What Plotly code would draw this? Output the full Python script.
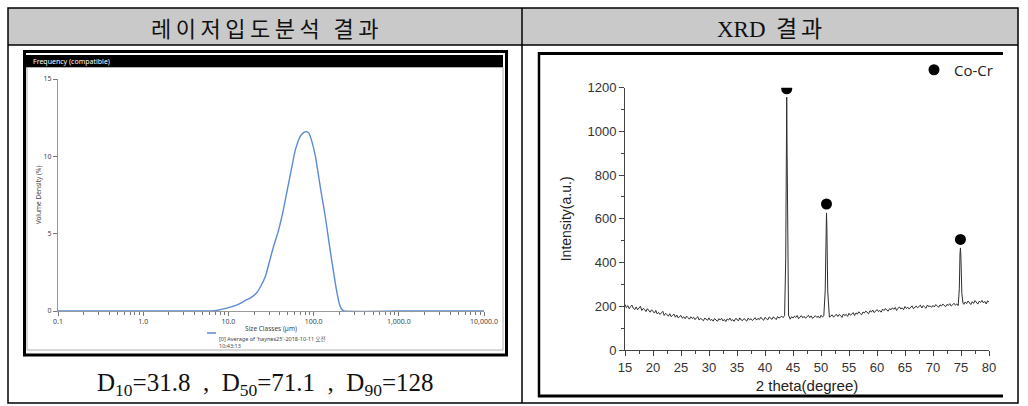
import plotly.graph_objects as go

# ---------------- data ----------------
# Laser particle size distribution (left panel)
size_um = [0.1, 1.0, 5.0, 6.3, 7.5, 9.0, 10.0, 12.0, 13.8, 16.0, 18.2, 21.6, 24.0, 27.4,
           30.0, 34.0, 38.7, 44.0, 49.0, 55.0, 61.0, 70.0, 77.0, 82.0, 88.0, 95.0,
           105.0, 120.0, 139.0, 152.0, 165.0, 185.0, 202.0, 215.0, 227.0, 1000.0, 10000.0]
volume_density = [0, 0, 0, 0, 0.05, 0.15, 0.22, 0.35, 0.5, 0.7, 0.85, 1.2, 1.6, 2.3,
                  3.1, 4.2, 5.2, 6.5, 7.8, 9.2, 10.4, 11.3, 11.55, 11.6, 11.5, 11.0,
                  10.0, 8.0, 5.9, 4.4, 3.1, 1.4, 0.4, 0.1, 0, 0, 0]
size_ticks = [0.1, 1.0, 10.0, 100.0, 1000.0, 10000.0]
size_tick_text = ["0.1", "1.0", "10.0", "100.0", "1,000.0", "10,000.0"]
size_minor = [m * d for d in [0.1, 1.0, 10.0, 100.0, 1000.0] for m in range(2, 10)]
density_ticks = [0, 5, 10, 15]
d_values = {"10": "31.8", "50": "71.1", "90": "128"}

# XRD pattern (right panel)
two_theta = [
    15.0, 15.25, 15.5, 15.75, 16.0, 16.25, 16.5, 16.75, 17.0, 17.25, 17.5, 17.75,
    18.0, 18.25, 18.5, 18.75, 19.0, 19.25, 19.5, 19.75, 20.0, 20.25, 20.5, 20.75,
    21.0, 21.25, 21.5, 21.75, 22.0, 22.25, 22.5, 22.75, 23.0, 23.25, 23.5, 23.75,
    24.0, 24.25, 24.5, 24.75, 25.0, 25.25, 25.5, 25.75, 26.0, 26.25, 26.5, 26.75,
    27.0, 27.25, 27.5, 27.75, 28.0, 28.25, 28.5, 28.75, 29.0, 29.25, 29.5, 29.75,
    30.0, 30.25, 30.5, 30.75, 31.0, 31.25, 31.5, 31.75, 32.0, 32.25, 32.5, 32.75,
    33.0, 33.25, 33.5, 33.75, 34.0, 34.25, 34.5, 34.75, 35.0, 35.25, 35.5, 35.75,
    36.0, 36.25, 36.5, 36.75, 37.0, 37.25, 37.5, 37.75, 38.0, 38.25, 38.5, 38.75,
    39.0, 39.25, 39.5, 39.75, 40.0, 40.25, 40.5, 40.75, 41.0, 41.25, 41.5, 41.75,
    42.0, 42.25, 42.5, 42.75,
    43.0, 43.25, 43.5, 43.7, 43.8, 43.88, 43.95, 44.05, 44.2, 44.5, 44.75,
    45.0, 45.25, 45.5, 45.75, 46.0, 46.25, 46.5, 46.75, 47.0, 47.25, 47.5, 47.75,
    48.0, 48.25, 48.5, 48.75, 49.0, 49.25, 49.5, 49.75,
    50.0, 50.25, 50.5, 50.75, 50.9, 50.98, 51.05, 51.2, 51.5, 51.75,
    52.0, 52.25, 52.5, 52.75, 53.0, 53.25, 53.5, 53.75, 54.0, 54.25, 54.5, 54.75,
    55.0, 55.25, 55.5, 55.75, 56.0, 56.25, 56.5, 56.75, 57.0, 57.25, 57.5, 57.75,
    58.0, 58.25, 58.5, 58.75, 59.0, 59.25, 59.5, 59.75, 60.0, 60.25, 60.5, 60.75,
    61.0, 61.25, 61.5, 61.75, 62.0, 62.25, 62.5, 62.75, 63.0, 63.25, 63.5, 63.75,
    64.0, 64.25, 64.5, 64.75, 65.0, 65.25, 65.5, 65.75, 66.0, 66.25, 66.5, 66.75,
    67.0, 67.25, 67.5, 67.75, 68.0, 68.25, 68.5, 68.75, 69.0, 69.25, 69.5, 69.75,
    70.0, 70.25, 70.5, 70.75, 71.0, 71.25, 71.5, 71.75, 72.0, 72.25, 72.5, 72.75,
    73.0, 73.25, 73.5, 73.75,
    74.0, 74.25, 74.5, 74.7, 74.82, 74.9, 74.98, 75.15, 75.35, 75.5, 75.75,
    76.0, 76.25, 76.5, 76.75, 77.0, 77.25, 77.5, 77.75, 78.0, 78.25, 78.5, 78.75,
    79.0, 79.25, 79.5, 79.75, 80.0]
intensity = [
    208, 194, 203, 189, 199, 205, 190, 185, 197, 184, 192, 200,
    181, 190, 186, 176, 189, 178, 173, 184, 176, 169, 181, 165,
    172, 163, 170, 177, 158, 168, 161, 155, 166, 152, 159, 164,
    150, 160, 147, 155, 158, 146, 152, 143, 155, 148, 141, 152,
    144, 150, 139, 147, 152, 137, 145, 140, 134, 146, 141, 136,
    147, 135, 140, 132, 144, 137, 131, 143, 138, 145, 133, 140,
    130, 142, 137, 146, 134, 139, 131, 144, 141, 133, 147, 137,
    135, 144, 139, 132, 146, 138, 143, 135, 141, 148, 137, 145,
    139, 150, 142, 136, 149, 143, 138, 151, 145, 140, 152, 147,
    139, 153, 146, 150,
    155, 148, 158, 420, 1000, 1157, 900, 380, 160, 141, 152,
    146, 155, 149, 158, 143, 152, 157, 147, 154, 145, 150, 159,
    148, 156, 144, 153, 157, 149, 155, 146,
    159, 151, 156, 270, 560, 627, 560, 270, 150, 158,
    161, 150, 156, 164, 153, 162, 158, 149, 165, 157, 163, 154,
    168, 159, 164, 171, 158, 170, 164, 175, 167, 161, 174, 169,
    178, 170, 166, 180, 174, 183, 171, 178, 185, 176, 181, 173,
    187, 180, 190, 182, 178, 189, 184, 193, 186, 195, 181, 191,
    197, 188, 193, 185, 199, 190, 196, 187, 194, 202, 189, 197,
    201, 193, 199, 205, 192, 203, 197, 191, 206, 198, 202, 195,
    204, 197, 208, 200, 195, 207, 201, 210, 203, 198, 209, 204,
    212, 201, 207, 214,
    205, 211, 203, 280, 440, 467, 430, 260, 215, 209, 220,
    212, 224, 216, 208, 221, 213, 226, 217, 210, 223, 218, 227,
    215, 222, 211, 225, 219]
peak_theta = [43.88, 50.98, 74.9]
peak_marker_level = [1195, 668, 506]

# ---------------- figure ----------------
W, H = 1028, 406


def px(x):
    return x / W


def py(y):
    return 1 - y / H


fig = go.Figure()
fig.add_trace(go.Scatter(x=size_um, y=volume_density, mode="lines",
                         line=dict(color="#5b8ad6", width=1.4, shape="spline", smoothing=0.5),
                         xaxis="x", yaxis="y", showlegend=False, hoverinfo="skip"))
fig.add_trace(go.Scatter(x=two_theta, y=intensity, mode="lines",
                         line=dict(color="#2e2e2e", width=1),
                         xaxis="x2", yaxis="y2", showlegend=False, hoverinfo="skip"))
fig.add_trace(go.Scatter(x=peak_theta, y=peak_marker_level, mode="markers", name="Co-Cr",
                         marker=dict(color="black", size=11),
                         xaxis="x2", yaxis="y2", showlegend=True, hoverinfo="skip"))

small = dict(family="Noto Sans", size=7, color="#444")
xrd_font = dict(family="Liberation Sans", size=13, color="#333")

shapes = [
    # table header fill
    dict(type="rect", xref="paper", yref="paper", x0=px(8), x1=px(1018), y0=py(45), y1=py(8),
         fillcolor="#c9c9c9", line=dict(width=0), layer="below"),
    # table borders
    dict(type="rect", xref="paper", yref="paper", x0=px(8), x1=px(1018), y0=py(403), y1=py(8),
         line=dict(color="black", width=1.5)),
    dict(type="line", xref="paper", yref="paper", x0=px(8), x1=px(1018), y0=py(45), y1=py(45),
         line=dict(color="black", width=1.5)),
    dict(type="line", xref="paper", yref="paper", x0=px(522), x1=px(522), y0=py(8), y1=py(403),
         line=dict(color="black", width=1.5)),
    # left screenshot frame
    dict(type="rect", xref="paper", yref="paper", x0=px(24.5), x1=px(506.5), y0=py(355), y1=py(51.5),
         line=dict(color="black", width=3)),
    dict(type="rect", xref="paper", yref="paper", x0=px(26), x1=px(503), y0=py(67.5), y1=py(55),
         fillcolor="black", line=dict(width=0)),
    dict(type="rect", xref="paper", yref="paper", x0=px(27), x1=px(503), y0=py(350), y1=py(67.5),
         line=dict(color="#b0b0b0", width=1)),
    # right image frame
    dict(type="line", xref="paper", yref="paper", x0=px(538), x1=px(1003), y0=py(53.5), y1=py(53.5),
         line=dict(color="black", width=3)),
    dict(type="line", xref="paper", yref="paper", x0=px(539), x1=px(539), y0=py(52), y1=py(397),
         line=dict(color="black", width=2.5)),
    dict(type="line", xref="paper", yref="paper", x0=px(538), x1=px(1003), y0=py(396), y1=py(396),
         line=dict(color="black", width=3)),
    # legend swatch (left screenshot)
    dict(type="line", xref="paper", yref="paper", x0=px(207), x1=px(216), y0=py(333), y1=py(333),
         line=dict(color="#5b8ad6", width=1.5)),
]

d_text = "  ,  ".join(f"D<sub>{k}</sub>={v}" for k, v in d_values.items())

annotations = [
    dict(text='<span style="letter-spacing:4.5px">레이저입도분석 결과</span>', x=px(267), y=py(27),
         xanchor="center", yanchor="middle",
         xref="paper", yref="paper", showarrow=False,
         font=dict(family="Noto Sans CJK KR", size=22, color="#111")),
    dict(text='<span style="font-family:Liberation Serif">XRD</span>  '
              '<span style="letter-spacing:4px">결과</span>', x=px(771), y=py(27),
         xanchor="center", yanchor="middle",
         xref="paper", yref="paper", showarrow=False,
         font=dict(family="Noto Sans CJK KR", size=23, color="#111")),
    dict(text="Frequency (compatible)", x=px(31), y=py(61.5), xanchor="left", yanchor="middle",
         xref="paper", yref="paper", showarrow=False,
         font=dict(family="Noto Sans", size=7, color="white")),
    dict(text="[0] Average of 'haynes25'-2018-10-11 오전<br>10:43:13", x=px(217), y=py(333),
         xanchor="left", yanchor="top", align="left",
         xref="paper", yref="paper", showarrow=False,
         font=dict(family="Noto Sans, Noto Sans CJK KR", size=5.5, color="#444")),
    dict(text=d_text, x=px(265), y=py(384), xanchor="center", yanchor="middle",
         xref="paper", yref="paper", showarrow=False,
         font=dict(family="Liberation Serif", size=25, color="#111")),
]

fig.update_layout(
    width=W, height=H, margin=dict(l=0, r=0, t=0, b=0, autoexpand=False),
    paper_bgcolor="white", plot_bgcolor="rgba(0,0,0,0)",
    shapes=shapes, annotations=annotations,
    xaxis=dict(type="log", range=[-1, 4], domain=[px(58), px(484)], anchor="y", automargin=False,
               tickmode="array", tickvals=size_ticks, ticktext=size_tick_text,
               ticks="outside", ticklen=4, tickcolor="#777", tickfont=small,
               showline=True, linecolor="#999", linewidth=1, showgrid=False, zeroline=False,
               minor=dict(tickmode="array", tickvals=size_minor, ticks="outside", ticklen=3,
                          tickcolor="#777", showgrid=False),
               title=dict(text="Size Classes (µm)", font=dict(family="Noto Sans", size=6.5, color="#444"),
                          standoff=1)),
    yaxis=dict(range=[0, 15], domain=[py(311), py(79)], anchor="x", automargin=False,
               tickmode="array", tickvals=density_ticks,
               ticks="outside", ticklen=4, tickcolor="#777", tickfont=small,
               showline=True, linecolor="#999", linewidth=1, showgrid=False, zeroline=False,
               title=dict(text="Volume Density (%)", font=dict(family="Noto Sans", size=6.5, color="#444"),
                          standoff=1)),
    xaxis2=dict(range=[15, 80], domain=[px(625), px(989)], anchor="y2", automargin=False,
                tickmode="linear", tick0=15, dtick=5,
                ticks="outside", ticklen=5, tickcolor="#444", tickfont=xrd_font,
                showline=True, linecolor="#444", linewidth=1, showgrid=False, zeroline=False,
                minor=dict(tick0=15, dtick=2.5, ticks="outside", ticklen=3, tickcolor="#444", showgrid=False),
                title=dict(text="2 theta(degree)", font=dict(family="Liberation Sans", size=15, color="#222"),
                           standoff=6)),
    yaxis2=dict(range=[0, 1200], domain=[py(350), py(87.7)], anchor="x2", automargin=False,
                tickmode="linear", tick0=0, dtick=200,
                ticks="outside", ticklen=5, tickcolor="#444", tickfont=xrd_font,
                showline=True, linecolor="#444", linewidth=1, showgrid=False, zeroline=False,
                minor=dict(tick0=0, dtick=100, ticks="outside", ticklen=3, tickcolor="#444", showgrid=False),
                title=dict(text="Intensity(a.u.)", font=dict(family="Liberation Sans", size=14, color="#222"),
                           standoff=12)),
    legend=dict(x=px(914), y=py(70), xanchor="left", yanchor="middle",
                bgcolor="rgba(0,0,0,0)", borderwidth=0,
                font=dict(family="Open Sans", size=15, color="#222")),
)

fig.write_html("out.html")
